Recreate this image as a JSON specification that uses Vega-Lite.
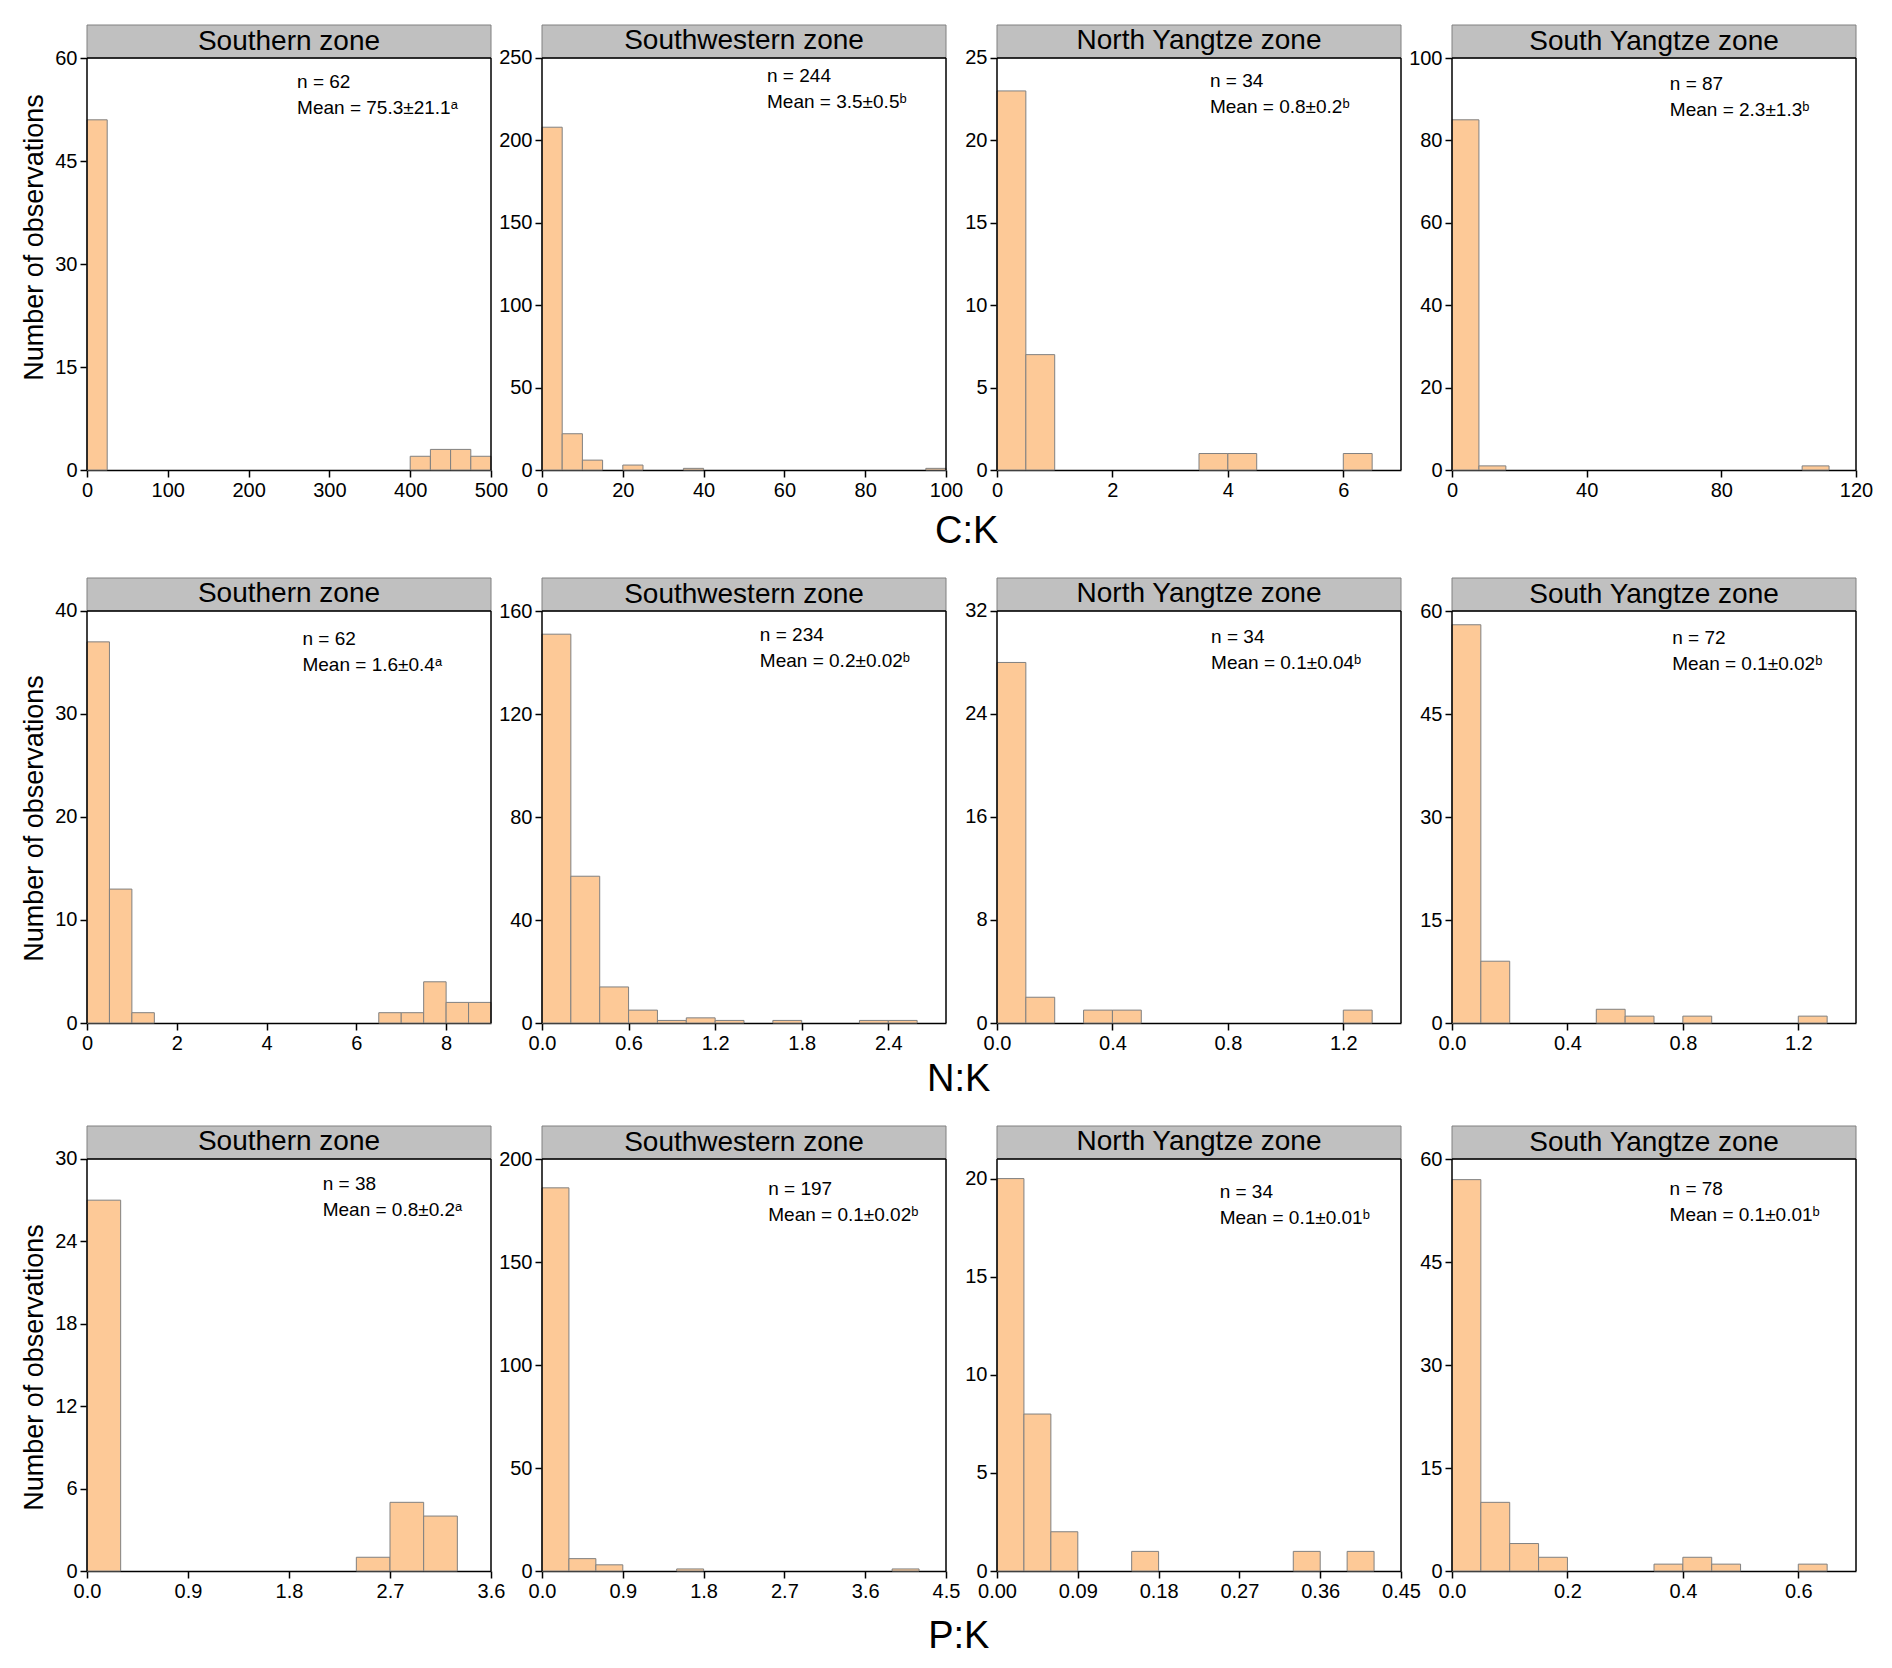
{
"$schema": "https://vega.github.io/schema/vega-lite/v6.json",
"padding": {"left": 20, "top": 24, "right": 5, "bottom": 5},
"background": "#ffffff",
"datasets": {"bins": [
{"ratio":"C:K","zone":"Southern zone","lo":0,"hi":25,"count":51},
{"ratio":"C:K","zone":"Southern zone","lo":400,"hi":425,"count":2},
{"ratio":"C:K","zone":"Southern zone","lo":425,"hi":450,"count":3},
{"ratio":"C:K","zone":"Southern zone","lo":450,"hi":475,"count":3},
{"ratio":"C:K","zone":"Southern zone","lo":475,"hi":500,"count":2},
{"ratio":"C:K","zone":"Southwestern zone","lo":0,"hi":5,"count":208},
{"ratio":"C:K","zone":"Southwestern zone","lo":5,"hi":10,"count":22},
{"ratio":"C:K","zone":"Southwestern zone","lo":10,"hi":15,"count":6},
{"ratio":"C:K","zone":"Southwestern zone","lo":20,"hi":25,"count":3},
{"ratio":"C:K","zone":"Southwestern zone","lo":35,"hi":40,"count":1},
{"ratio":"C:K","zone":"Southwestern zone","lo":95,"hi":100,"count":1},
{"ratio":"C:K","zone":"North Yangtze zone","lo":0,"hi":0.5,"count":23},
{"ratio":"C:K","zone":"North Yangtze zone","lo":0.5,"hi":1,"count":7},
{"ratio":"C:K","zone":"North Yangtze zone","lo":3.5,"hi":4,"count":1},
{"ratio":"C:K","zone":"North Yangtze zone","lo":4,"hi":4.5,"count":1},
{"ratio":"C:K","zone":"North Yangtze zone","lo":6,"hi":6.5,"count":1},
{"ratio":"C:K","zone":"South Yangtze zone","lo":0,"hi":8,"count":85},
{"ratio":"C:K","zone":"South Yangtze zone","lo":8,"hi":16,"count":1},
{"ratio":"C:K","zone":"South Yangtze zone","lo":104,"hi":112,"count":1},
{"ratio":"N:K","zone":"Southern zone","lo":0,"hi":0.5,"count":37},
{"ratio":"N:K","zone":"Southern zone","lo":0.5,"hi":1,"count":13},
{"ratio":"N:K","zone":"Southern zone","lo":1,"hi":1.5,"count":1},
{"ratio":"N:K","zone":"Southern zone","lo":6.5,"hi":7,"count":1},
{"ratio":"N:K","zone":"Southern zone","lo":7,"hi":7.5,"count":1},
{"ratio":"N:K","zone":"Southern zone","lo":7.5,"hi":8,"count":4},
{"ratio":"N:K","zone":"Southern zone","lo":8,"hi":8.5,"count":2},
{"ratio":"N:K","zone":"Southern zone","lo":8.5,"hi":9,"count":2},
{"ratio":"N:K","zone":"Southwestern zone","lo":0,"hi":0.2,"count":151},
{"ratio":"N:K","zone":"Southwestern zone","lo":0.2,"hi":0.4,"count":57},
{"ratio":"N:K","zone":"Southwestern zone","lo":0.4,"hi":0.6,"count":14},
{"ratio":"N:K","zone":"Southwestern zone","lo":0.6,"hi":0.8,"count":5},
{"ratio":"N:K","zone":"Southwestern zone","lo":0.8,"hi":1.0,"count":1},
{"ratio":"N:K","zone":"Southwestern zone","lo":1.0,"hi":1.2,"count":2},
{"ratio":"N:K","zone":"Southwestern zone","lo":1.2,"hi":1.4,"count":1},
{"ratio":"N:K","zone":"Southwestern zone","lo":1.6,"hi":1.8,"count":1},
{"ratio":"N:K","zone":"Southwestern zone","lo":2.2,"hi":2.4,"count":1},
{"ratio":"N:K","zone":"Southwestern zone","lo":2.4,"hi":2.6,"count":1},
{"ratio":"N:K","zone":"North Yangtze zone","lo":0,"hi":0.1,"count":28},
{"ratio":"N:K","zone":"North Yangtze zone","lo":0.1,"hi":0.2,"count":2},
{"ratio":"N:K","zone":"North Yangtze zone","lo":0.3,"hi":0.4,"count":1},
{"ratio":"N:K","zone":"North Yangtze zone","lo":0.4,"hi":0.5,"count":1},
{"ratio":"N:K","zone":"North Yangtze zone","lo":1.2,"hi":1.3,"count":1},
{"ratio":"N:K","zone":"South Yangtze zone","lo":0,"hi":0.1,"count":58},
{"ratio":"N:K","zone":"South Yangtze zone","lo":0.1,"hi":0.2,"count":9},
{"ratio":"N:K","zone":"South Yangtze zone","lo":0.5,"hi":0.6,"count":2},
{"ratio":"N:K","zone":"South Yangtze zone","lo":0.6,"hi":0.7,"count":1},
{"ratio":"N:K","zone":"South Yangtze zone","lo":0.8,"hi":0.9,"count":1},
{"ratio":"N:K","zone":"South Yangtze zone","lo":1.2,"hi":1.3,"count":1},
{"ratio":"P:K","zone":"Southern zone","lo":0,"hi":0.3,"count":27},
{"ratio":"P:K","zone":"Southern zone","lo":2.4,"hi":2.7,"count":1},
{"ratio":"P:K","zone":"Southern zone","lo":2.7,"hi":3.0,"count":5},
{"ratio":"P:K","zone":"Southern zone","lo":3.0,"hi":3.3,"count":4},
{"ratio":"P:K","zone":"Southwestern zone","lo":0,"hi":0.3,"count":186},
{"ratio":"P:K","zone":"Southwestern zone","lo":0.3,"hi":0.6,"count":6},
{"ratio":"P:K","zone":"Southwestern zone","lo":0.6,"hi":0.9,"count":3},
{"ratio":"P:K","zone":"Southwestern zone","lo":1.5,"hi":1.8,"count":1},
{"ratio":"P:K","zone":"Southwestern zone","lo":3.9,"hi":4.2,"count":1},
{"ratio":"P:K","zone":"North Yangtze zone","lo":0,"hi":0.03,"count":20},
{"ratio":"P:K","zone":"North Yangtze zone","lo":0.03,"hi":0.06,"count":8},
{"ratio":"P:K","zone":"North Yangtze zone","lo":0.06,"hi":0.09,"count":2},
{"ratio":"P:K","zone":"North Yangtze zone","lo":0.15,"hi":0.18,"count":1},
{"ratio":"P:K","zone":"North Yangtze zone","lo":0.33,"hi":0.36,"count":1},
{"ratio":"P:K","zone":"North Yangtze zone","lo":0.39,"hi":0.42,"count":1},
{"ratio":"P:K","zone":"South Yangtze zone","lo":0,"hi":0.05,"count":57},
{"ratio":"P:K","zone":"South Yangtze zone","lo":0.05,"hi":0.1,"count":10},
{"ratio":"P:K","zone":"South Yangtze zone","lo":0.1,"hi":0.15,"count":4},
{"ratio":"P:K","zone":"South Yangtze zone","lo":0.15,"hi":0.2,"count":2},
{"ratio":"P:K","zone":"South Yangtze zone","lo":0.35,"hi":0.4,"count":1},
{"ratio":"P:K","zone":"South Yangtze zone","lo":0.4,"hi":0.45,"count":2},
{"ratio":"P:K","zone":"South Yangtze zone","lo":0.45,"hi":0.5,"count":1},
{"ratio":"P:K","zone":"South Yangtze zone","lo":0.6,"hi":0.65,"count":1}
]},
"data": {"name": "bins"},
"config": {
  "font": "Liberation Sans",
  "view": {"stroke": null},
  "axis": {"grid": false, "domainColor": "#000000", "domainWidth": 1.5, "tickColor": "#000000", "tickWidth": 1.5, "tickSize": 7,
           "labelFont": "Liberation Sans", "labelFontSize": 20, "labelColor": "#000000", "labelPadding": 3, "labelFlush": false, "labelOverlap": false, "labelBound": false,
           "titleFont": "Liberation Sans", "titleFontSize": 27, "titleFontWeight": "normal", "titleColor": "#000000"},
  "axisY": {"domain": false},
  "bar": {"fill": "#fdc997", "stroke": "#808080", "strokeWidth": 1},
  "rect": {"fill": "#c0c0c0", "stroke": "#808080", "strokeWidth": 1},
  "rule": {"color": "#000000", "strokeWidth": 1.5},
  "text": {"font": "Liberation Sans", "color": "#000000"},
  "title": {"font": "Liberation Sans", "color": "#000000"}
},
"spacing": 26,
"vconcat": [
{
 "hconcat": [
  {"width": 404, "height": 445, "layer": [
    {"transform": [{"filter": "datum.ratio == 'C:K' && datum.zone == 'Southern zone'"}], "mark": "bar",
     "encoding": {"x": {"field": "lo", "type": "quantitative", "scale": {"domain": [0, 500], "nice": false}, "axis": {"values": [0,100,200,300,400,500], "title": null}},
                  "x2": {"field": "hi"},
                  "y": {"field": "count", "type": "quantitative", "scale": {"domain": [0, 64.81], "nice": false}, "axis": {"values": [0,15,30,45,60], "title": "Number of observations", "titlePadding": 6, "titleY": 212}},
                  "y2": {"datum": 0}}},
    {"data": {"values": [{}]}, "mark": "rect", "encoding": {"x": {"datum": 0}, "x2": {"datum": 500}, "y": {"datum": 60}, "y2": {"datum": 64.81}}},
    {"data": {"values": [{}]}, "mark": {"type": "text", "fontSize": 28}, "encoding": {"x": {"datum": 250}, "y": {"datum": 62.4}, "text": {"value": "Southern zone"}}},
    {"data": {"values": [{}]}, "mark": "rule", "encoding": {"x": {"datum": 0}, "y": {"datum": 0}, "y2": {"datum": 60}}},
    {"data": {"values": [{}]}, "mark": "rule", "encoding": {"x": {"datum": 500}, "y": {"datum": 0}, "y2": {"datum": 60}}},
    {"data": {"values": [{}]}, "mark": "rule", "encoding": {"x": {"datum": 0}, "x2": {"datum": 500}, "y": {"datum": 60}}},
    {"data": {"values": [{}]}, "mark": {"type": "text", "align": "left", "baseline": "middle", "fontSize": 19, "lineHeight": 26},
     "encoding": {"x": {"datum": 260}, "y": {"datum": 56.5}, "text": {"value": ["n = 62", "Mean = 75.3±21.1ᵃ"]}}}
  ]},
  {"width": 404, "height": 445, "layer": [
    {"transform": [{"filter": "datum.ratio == 'C:K' && datum.zone == 'Southwestern zone'"}], "mark": "bar",
     "encoding": {"x": {"field": "lo", "type": "quantitative", "scale": {"domain": [0, 100], "nice": false}, "axis": {"values": [0,20,40,60,80,100], "title": null}},
                  "x2": {"field": "hi"},
                  "y": {"field": "count", "type": "quantitative", "scale": {"domain": [0, 270.02], "nice": false}, "axis": {"values": [0,50,100,150,200,250], "title": null}},
                  "y2": {"datum": 0}}},
    {"data": {"values": [{}]}, "mark": "rect", "encoding": {"x": {"datum": 0}, "x2": {"datum": 100}, "y": {"datum": 250}, "y2": {"datum": 270.02}}},
    {"data": {"values": [{}]}, "mark": {"type": "text", "fontSize": 28}, "encoding": {"x": {"datum": 50}, "y": {"datum": 260.01}, "text": {"value": "Southwestern zone"}}},
    {"data": {"values": [{}]}, "mark": "rule", "encoding": {"x": {"datum": 0}, "y": {"datum": 0}, "y2": {"datum": 250}}},
    {"data": {"values": [{}]}, "mark": "rule", "encoding": {"x": {"datum": 100}, "y": {"datum": 0}, "y2": {"datum": 250}}},
    {"data": {"values": [{}]}, "mark": "rule", "encoding": {"x": {"datum": 0}, "x2": {"datum": 100}, "y": {"datum": 250}}},
    {"data": {"values": [{}]}, "mark": {"type": "text", "align": "left", "baseline": "middle", "fontSize": 19, "lineHeight": 26},
     "encoding": {"x": {"datum": 55.7}, "y": {"datum": 239}, "text": {"value": ["n = 244", "Mean = 3.5±0.5ᵇ"]}}}
  ]},
  {"width": 404, "height": 445, "layer": [
    {"transform": [{"filter": "datum.ratio == 'C:K' && datum.zone == 'North Yangtze zone'"}], "mark": "bar",
     "encoding": {"x": {"field": "lo", "type": "quantitative", "scale": {"domain": [0, 7], "nice": false}, "axis": {"values": [0,2,4,6], "format": "d", "title": null}},
                  "x2": {"field": "hi"},
                  "y": {"field": "count", "type": "quantitative", "scale": {"domain": [0, 27.0], "nice": false}, "axis": {"values": [0,5,10,15,20,25], "title": null}},
                  "y2": {"datum": 0}}},
    {"data": {"values": [{}]}, "mark": "rect", "encoding": {"x": {"datum": 0}, "x2": {"datum": 7}, "y": {"datum": 25}, "y2": {"datum": 27.0}}},
    {"data": {"values": [{}]}, "mark": {"type": "text", "fontSize": 28}, "encoding": {"x": {"datum": 3.5}, "y": {"datum": 26.0}, "text": {"value": "North Yangtze zone"}}},
    {"data": {"values": [{}]}, "mark": "rule", "encoding": {"x": {"datum": 0}, "y": {"datum": 0}, "y2": {"datum": 25}}},
    {"data": {"values": [{}]}, "mark": "rule", "encoding": {"x": {"datum": 7}, "y": {"datum": 0}, "y2": {"datum": 25}}},
    {"data": {"values": [{}]}, "mark": "rule", "encoding": {"x": {"datum": 0}, "x2": {"datum": 7}, "y": {"datum": 25}}},
    {"data": {"values": [{}]}, "mark": {"type": "text", "align": "left", "baseline": "middle", "fontSize": 19, "lineHeight": 26},
     "encoding": {"x": {"datum": 3.69}, "y": {"datum": 23.6}, "text": {"value": ["n = 34", "Mean = 0.8±0.2ᵇ"]}}}
  ]},
  {"width": 404, "height": 445, "layer": [
    {"transform": [{"filter": "datum.ratio == 'C:K' && datum.zone == 'South Yangtze zone'"}], "mark": "bar",
     "encoding": {"x": {"field": "lo", "type": "quantitative", "scale": {"domain": [0, 120], "nice": false}, "axis": {"values": [0,40,80,120], "title": null}},
                  "x2": {"field": "hi"},
                  "y": {"field": "count", "type": "quantitative", "scale": {"domain": [0, 108.01], "nice": false}, "axis": {"values": [0,20,40,60,80,100], "title": null}},
                  "y2": {"datum": 0}}},
    {"data": {"values": [{}]}, "mark": "rect", "encoding": {"x": {"datum": 0}, "x2": {"datum": 120}, "y": {"datum": 100}, "y2": {"datum": 108.01}}},
    {"data": {"values": [{}]}, "mark": {"type": "text", "fontSize": 28}, "encoding": {"x": {"datum": 60}, "y": {"datum": 104.0}, "text": {"value": "South Yangtze zone"}}},
    {"data": {"values": [{}]}, "mark": "rule", "encoding": {"x": {"datum": 0}, "y": {"datum": 0}, "y2": {"datum": 100}}},
    {"data": {"values": [{}]}, "mark": "rule", "encoding": {"x": {"datum": 120}, "y": {"datum": 0}, "y2": {"datum": 100}}},
    {"data": {"values": [{}]}, "mark": "rule", "encoding": {"x": {"datum": 0}, "x2": {"datum": 120}, "y": {"datum": 100}}},
    {"data": {"values": [{}]}, "mark": {"type": "text", "align": "left", "baseline": "middle", "fontSize": 19, "lineHeight": 26},
     "encoding": {"x": {"datum": 64.7}, "y": {"datum": 93.8}, "text": {"value": ["n = 87", "Mean = 2.3±1.3ᵇ"]}}}
  ]}
 ],
 "spacing": 51, "bounds": "flush",
 "title": {"text": "C:K", "orient": "bottom", "anchor": "middle", "fontSize": 38, "fontWeight": "normal", "offset": 13, "dx": 20}
},
{
 "hconcat": [
  {"width": 404, "height": 445, "layer": [
    {"transform": [{"filter": "datum.ratio == 'N:K' && datum.zone == 'Southern zone'"}], "mark": "bar",
     "encoding": {"x": {"field": "lo", "type": "quantitative", "scale": {"domain": [0, 9], "nice": false}, "axis": {"values": [0,2,4,6,8], "format": "d", "title": null}},
                  "x2": {"field": "hi"},
                  "y": {"field": "count", "type": "quantitative", "scale": {"domain": [0, 43.2], "nice": false}, "axis": {"values": [0,10,20,30,40], "title": "Number of observations", "titlePadding": 6, "titleY": 240}},
                  "y2": {"datum": 0}}},
    {"data": {"values": [{}]}, "mark": "rect", "encoding": {"x": {"datum": 0}, "x2": {"datum": 9}, "y": {"datum": 40}, "y2": {"datum": 43.2}}},
    {"data": {"values": [{}]}, "mark": {"type": "text", "fontSize": 28}, "encoding": {"x": {"datum": 4.5}, "y": {"datum": 41.6}, "text": {"value": "Southern zone"}}},
    {"data": {"values": [{}]}, "mark": "rule", "encoding": {"x": {"datum": 0}, "y": {"datum": 0}, "y2": {"datum": 40}}},
    {"data": {"values": [{}]}, "mark": "rule", "encoding": {"x": {"datum": 9}, "y": {"datum": 0}, "y2": {"datum": 40}}},
    {"data": {"values": [{}]}, "mark": "rule", "encoding": {"x": {"datum": 0}, "x2": {"datum": 9}, "y": {"datum": 40}}},
    {"data": {"values": [{}]}, "mark": {"type": "text", "align": "left", "baseline": "middle", "fontSize": 19, "lineHeight": 26},
     "encoding": {"x": {"datum": 4.8}, "y": {"datum": 37.3}, "text": {"value": ["n = 62", "Mean = 1.6±0.4ᵃ"]}}}
  ]},
  {"width": 404, "height": 445, "layer": [
    {"transform": [{"filter": "datum.ratio == 'N:K' && datum.zone == 'Southwestern zone'"}], "mark": "bar",
     "encoding": {"x": {"field": "lo", "type": "quantitative", "scale": {"domain": [0, 2.8], "nice": false}, "axis": {"values": [0,0.6,1.2,1.8,2.4], "format": ".1f", "title": null}},
                  "x2": {"field": "hi"},
                  "y": {"field": "count", "type": "quantitative", "scale": {"domain": [0, 172.82], "nice": false}, "axis": {"values": [0,40,80,120,160], "title": null}},
                  "y2": {"datum": 0}}},
    {"data": {"values": [{}]}, "mark": "rect", "encoding": {"x": {"datum": 0}, "x2": {"datum": 2.8}, "y": {"datum": 160}, "y2": {"datum": 172.82}}},
    {"data": {"values": [{}]}, "mark": {"type": "text", "fontSize": 28}, "encoding": {"x": {"datum": 1.4}, "y": {"datum": 166.41}, "text": {"value": "Southwestern zone"}}},
    {"data": {"values": [{}]}, "mark": "rule", "encoding": {"x": {"datum": 0}, "y": {"datum": 0}, "y2": {"datum": 160}}},
    {"data": {"values": [{}]}, "mark": "rule", "encoding": {"x": {"datum": 2.8}, "y": {"datum": 0}, "y2": {"datum": 160}}},
    {"data": {"values": [{}]}, "mark": "rule", "encoding": {"x": {"datum": 0}, "x2": {"datum": 2.8}, "y": {"datum": 160}}},
    {"data": {"values": [{}]}, "mark": {"type": "text", "align": "left", "baseline": "middle", "fontSize": 19, "lineHeight": 26},
     "encoding": {"x": {"datum": 1.51}, "y": {"datum": 150.6}, "text": {"value": ["n = 234", "Mean = 0.2±0.02ᵇ"]}}}
  ]},
  {"width": 404, "height": 445, "layer": [
    {"transform": [{"filter": "datum.ratio == 'N:K' && datum.zone == 'North Yangtze zone'"}], "mark": "bar",
     "encoding": {"x": {"field": "lo", "type": "quantitative", "scale": {"domain": [0, 1.4], "nice": false}, "axis": {"values": [0,0.4,0.8,1.2], "format": ".1f", "title": null}},
                  "x2": {"field": "hi"},
                  "y": {"field": "count", "type": "quantitative", "scale": {"domain": [0, 34.56], "nice": false}, "axis": {"values": [0,8,16,24,32], "title": null}},
                  "y2": {"datum": 0}}},
    {"data": {"values": [{}]}, "mark": "rect", "encoding": {"x": {"datum": 0}, "x2": {"datum": 1.4}, "y": {"datum": 32}, "y2": {"datum": 34.56}}},
    {"data": {"values": [{}]}, "mark": {"type": "text", "fontSize": 28}, "encoding": {"x": {"datum": 0.7}, "y": {"datum": 33.28}, "text": {"value": "North Yangtze zone"}}},
    {"data": {"values": [{}]}, "mark": "rule", "encoding": {"x": {"datum": 0}, "y": {"datum": 0}, "y2": {"datum": 32}}},
    {"data": {"values": [{}]}, "mark": "rule", "encoding": {"x": {"datum": 1.4}, "y": {"datum": 0}, "y2": {"datum": 32}}},
    {"data": {"values": [{}]}, "mark": "rule", "encoding": {"x": {"datum": 0}, "x2": {"datum": 1.4}, "y": {"datum": 32}}},
    {"data": {"values": [{}]}, "mark": {"type": "text", "align": "left", "baseline": "middle", "fontSize": 19, "lineHeight": 26},
     "encoding": {"x": {"datum": 0.742}, "y": {"datum": 30.0}, "text": {"value": ["n = 34", "Mean = 0.1±0.04ᵇ"]}}}
  ]},
  {"width": 404, "height": 445, "layer": [
    {"transform": [{"filter": "datum.ratio == 'N:K' && datum.zone == 'South Yangtze zone'"}], "mark": "bar",
     "encoding": {"x": {"field": "lo", "type": "quantitative", "scale": {"domain": [0, 1.4], "nice": false}, "axis": {"values": [0,0.4,0.8,1.2], "format": ".1f", "title": null}},
                  "x2": {"field": "hi"},
                  "y": {"field": "count", "type": "quantitative", "scale": {"domain": [0, 64.81], "nice": false}, "axis": {"values": [0,15,30,45,60], "title": null}},
                  "y2": {"datum": 0}}},
    {"data": {"values": [{}]}, "mark": "rect", "encoding": {"x": {"datum": 0}, "x2": {"datum": 1.4}, "y": {"datum": 60}, "y2": {"datum": 64.81}}},
    {"data": {"values": [{}]}, "mark": {"type": "text", "fontSize": 28}, "encoding": {"x": {"datum": 0.7}, "y": {"datum": 62.4}, "text": {"value": "South Yangtze zone"}}},
    {"data": {"values": [{}]}, "mark": "rule", "encoding": {"x": {"datum": 0}, "y": {"datum": 0}, "y2": {"datum": 60}}},
    {"data": {"values": [{}]}, "mark": "rule", "encoding": {"x": {"datum": 1.4}, "y": {"datum": 0}, "y2": {"datum": 60}}},
    {"data": {"values": [{}]}, "mark": "rule", "encoding": {"x": {"datum": 0}, "x2": {"datum": 1.4}, "y": {"datum": 60}}},
    {"data": {"values": [{}]}, "mark": {"type": "text", "align": "left", "baseline": "middle", "fontSize": 19, "lineHeight": 26},
     "encoding": {"x": {"datum": 0.763}, "y": {"datum": 56.1}, "text": {"value": ["n = 72", "Mean = 0.1±0.02ᵇ"]}}}
  ]}
 ],
 "spacing": 51, "bounds": "flush",
 "title": {"text": "N:K", "orient": "bottom", "anchor": "middle", "fontSize": 38, "fontWeight": "normal", "offset": 8, "dx": 20}
},
{
 "hconcat": [
  {"width": 404, "height": 445, "layer": [
    {"transform": [{"filter": "datum.ratio == 'P:K' && datum.zone == 'Southern zone'"}], "mark": "bar",
     "encoding": {"x": {"field": "lo", "type": "quantitative", "scale": {"domain": [0, 3.6], "nice": false}, "axis": {"values": [0,0.9,1.8,2.7,3.6], "format": ".1f", "title": null}},
                  "x2": {"field": "hi"},
                  "y": {"field": "count", "type": "quantitative", "scale": {"domain": [0, 32.4], "nice": false}, "axis": {"values": [0,6,12,18,24,30], "title": "Number of observations", "titlePadding": 6, "titleY": 241}},
                  "y2": {"datum": 0}}},
    {"data": {"values": [{}]}, "mark": "rect", "encoding": {"x": {"datum": 0}, "x2": {"datum": 3.6}, "y": {"datum": 30}, "y2": {"datum": 32.4}}},
    {"data": {"values": [{}]}, "mark": {"type": "text", "fontSize": 28}, "encoding": {"x": {"datum": 1.8}, "y": {"datum": 31.2}, "text": {"value": "Southern zone"}}},
    {"data": {"values": [{}]}, "mark": "rule", "encoding": {"x": {"datum": 0}, "y": {"datum": 0}, "y2": {"datum": 30}}},
    {"data": {"values": [{}]}, "mark": "rule", "encoding": {"x": {"datum": 3.6}, "y": {"datum": 0}, "y2": {"datum": 30}}},
    {"data": {"values": [{}]}, "mark": "rule", "encoding": {"x": {"datum": 0}, "x2": {"datum": 3.6}, "y": {"datum": 30}}},
    {"data": {"values": [{}]}, "mark": {"type": "text", "align": "left", "baseline": "middle", "fontSize": 19, "lineHeight": 26},
     "encoding": {"x": {"datum": 2.1}, "y": {"datum": 28.2}, "text": {"value": ["n = 38", "Mean = 0.8±0.2ᵃ"]}}}
  ]},
  {"width": 404, "height": 445, "layer": [
    {"transform": [{"filter": "datum.ratio == 'P:K' && datum.zone == 'Southwestern zone'"}], "mark": "bar",
     "encoding": {"x": {"field": "lo", "type": "quantitative", "scale": {"domain": [0, 4.5], "nice": false}, "axis": {"values": [0,0.9,1.8,2.7,3.6,4.5], "format": ".1f", "title": null}},
                  "x2": {"field": "hi"},
                  "y": {"field": "count", "type": "quantitative", "scale": {"domain": [0, 216.02], "nice": false}, "axis": {"values": [0,50,100,150,200], "title": null}},
                  "y2": {"datum": 0}}},
    {"data": {"values": [{}]}, "mark": "rect", "encoding": {"x": {"datum": 0}, "x2": {"datum": 4.5}, "y": {"datum": 200}, "y2": {"datum": 216.02}}},
    {"data": {"values": [{}]}, "mark": {"type": "text", "fontSize": 28}, "encoding": {"x": {"datum": 2.25}, "y": {"datum": 208.01}, "text": {"value": "Southwestern zone"}}},
    {"data": {"values": [{}]}, "mark": "rule", "encoding": {"x": {"datum": 0}, "y": {"datum": 0}, "y2": {"datum": 200}}},
    {"data": {"values": [{}]}, "mark": "rule", "encoding": {"x": {"datum": 4.5}, "y": {"datum": 0}, "y2": {"datum": 200}}},
    {"data": {"values": [{}]}, "mark": "rule", "encoding": {"x": {"datum": 0}, "x2": {"datum": 4.5}, "y": {"datum": 200}}},
    {"data": {"values": [{}]}, "mark": {"type": "text", "align": "left", "baseline": "middle", "fontSize": 19, "lineHeight": 26},
     "encoding": {"x": {"datum": 2.52}, "y": {"datum": 185.2}, "text": {"value": ["n = 197", "Mean = 0.1±0.02ᵇ"]}}}
  ]},
  {"width": 404, "height": 445, "layer": [
    {"transform": [{"filter": "datum.ratio == 'P:K' && datum.zone == 'North Yangtze zone'"}], "mark": "bar",
     "encoding": {"x": {"field": "lo", "type": "quantitative", "scale": {"domain": [0, 0.45], "nice": false}, "axis": {"values": [0,0.09,0.18,0.27,0.36,0.45], "format": ".2f", "title": null}},
                  "x2": {"field": "hi"},
                  "y": {"field": "count", "type": "quantitative", "scale": {"domain": [0, 22.68], "nice": false}, "axis": {"values": [0,5,10,15,20], "title": null}},
                  "y2": {"datum": 0}}},
    {"data": {"values": [{}]}, "mark": "rect", "encoding": {"x": {"datum": 0}, "x2": {"datum": 0.45}, "y": {"datum": 21}, "y2": {"datum": 22.68}}},
    {"data": {"values": [{}]}, "mark": {"type": "text", "fontSize": 28}, "encoding": {"x": {"datum": 0.225}, "y": {"datum": 21.84}, "text": {"value": "North Yangtze zone"}}},
    {"data": {"values": [{}]}, "mark": "rule", "encoding": {"x": {"datum": 0}, "y": {"datum": 0}, "y2": {"datum": 21}}},
    {"data": {"values": [{}]}, "mark": "rule", "encoding": {"x": {"datum": 0.45}, "y": {"datum": 0}, "y2": {"datum": 21}}},
    {"data": {"values": [{}]}, "mark": "rule", "encoding": {"x": {"datum": 0}, "x2": {"datum": 0.45}, "y": {"datum": 21}}},
    {"data": {"values": [{}]}, "mark": {"type": "text", "align": "left", "baseline": "middle", "fontSize": 19, "lineHeight": 26},
     "encoding": {"x": {"datum": 0.248}, "y": {"datum": 19.3}, "text": {"value": ["n = 34", "Mean = 0.1±0.01ᵇ"]}}}
  ]},
  {"width": 404, "height": 445, "layer": [
    {"transform": [{"filter": "datum.ratio == 'P:K' && datum.zone == 'South Yangtze zone'"}], "mark": "bar",
     "encoding": {"x": {"field": "lo", "type": "quantitative", "scale": {"domain": [0, 0.7], "nice": false}, "axis": {"values": [0,0.2,0.4,0.6], "format": ".1f", "title": null}},
                  "x2": {"field": "hi"},
                  "y": {"field": "count", "type": "quantitative", "scale": {"domain": [0, 64.81], "nice": false}, "axis": {"values": [0,15,30,45,60], "title": null}},
                  "y2": {"datum": 0}}},
    {"data": {"values": [{}]}, "mark": "rect", "encoding": {"x": {"datum": 0}, "x2": {"datum": 0.7}, "y": {"datum": 60}, "y2": {"datum": 64.81}}},
    {"data": {"values": [{}]}, "mark": {"type": "text", "fontSize": 28}, "encoding": {"x": {"datum": 0.35}, "y": {"datum": 62.4}, "text": {"value": "South Yangtze zone"}}},
    {"data": {"values": [{}]}, "mark": "rule", "encoding": {"x": {"datum": 0}, "y": {"datum": 0}, "y2": {"datum": 60}}},
    {"data": {"values": [{}]}, "mark": "rule", "encoding": {"x": {"datum": 0.7}, "y": {"datum": 0}, "y2": {"datum": 60}}},
    {"data": {"values": [{}]}, "mark": "rule", "encoding": {"x": {"datum": 0}, "x2": {"datum": 0.7}, "y": {"datum": 60}}},
    {"data": {"values": [{}]}, "mark": {"type": "text", "align": "left", "baseline": "middle", "fontSize": 19, "lineHeight": 26},
     "encoding": {"x": {"datum": 0.377}, "y": {"datum": 55.6}, "text": {"value": ["n = 78", "Mean = 0.1±0.01ᵇ"]}}}
  ]}
 ],
 "spacing": 51, "bounds": "flush",
 "title": {"text": "P:K", "orient": "bottom", "anchor": "middle", "fontSize": 38, "fontWeight": "normal", "offset": 17, "dx": 20}
}
]
}
